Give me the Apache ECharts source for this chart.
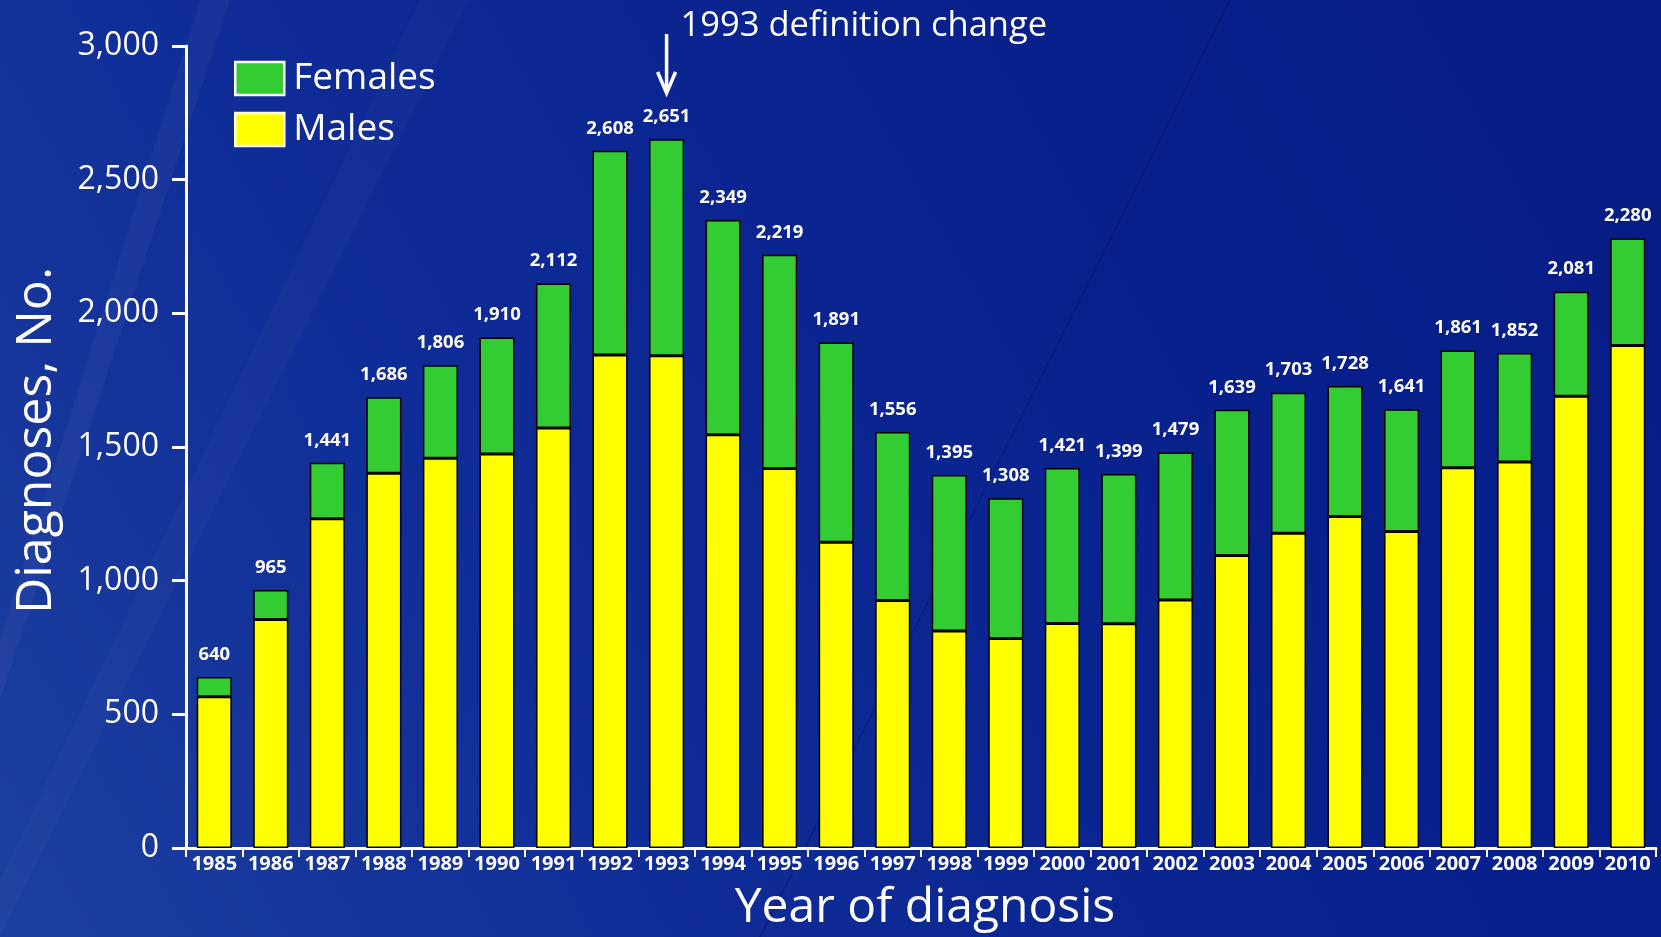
<!DOCTYPE html>
<html>
<head>
<meta charset="utf-8">
<script src="https://cdn.jsdelivr.net/npm/echarts@6/dist/echarts.min.js"></script>
<style>
html,body{margin:0;padding:0;background:#0a2490;}
#c{width:1661px;height:937px;}
</style>
</head>
<body>
<div id="c"></div>
<script>
const years = ['1985','1986','1987','1988','1989','1990','1991','1992','1993','1994','1995','1996','1997','1998','1999','2000','2001','2002','2003','2004','2005','2006','2007','2008','2009','2010'];
const totals = [640,965,1441,1686,1806,1910,2112,2608,2651,2349,2219,1891,1556,1395,1308,1421,1399,1479,1639,1703,1728,1641,1861,1852,2081,2280];
const males = [566,855,1232,1402,1458,1474,1571,1844,1841,1546,1420,1144,926,812,784,840,839,928,1094,1177,1240,1184,1422,1444,1690,1880];
const females = [74,110,209,284,348,436,541,764,810,803,799,747,630,583,524,581,560,551,545,526,488,457,439,408,391,400];
const yTicks = [0,500,1000,1500,2000,2500,3000];
const annotationYear = '1993';
const annotationText = '1993 definition change';

const FONT = '"Open Sans", "Noto Sans", sans-serif';
const fmt = v => Number(v).toLocaleString('en-US');

const chart = echarts.init(document.getElementById('c'), null, {renderer:'canvas'});

const option = {
  backgroundColor: {
    type: 'linear', x: 0, y: 1, x2: 1, y2: 0,
    colorStops: [
      {offset: 0, color: '#1d3fa0'},
      {offset: 0.35, color: '#0e2b96'},
      {offset: 0.7, color: '#07208c'},
      {offset: 1, color: '#061c84'}
    ]
  },
  animation: false,
  textStyle: {fontFamily: FONT},
  grid: {left: 186, right: 5, top: 46, bottom: 88, containLabel: false},
  legend: {
    data: ['Females', 'Males'],
    orient: 'vertical',
    left: 229, top: 55,
    icon: 'rect',
    itemWidth: 49, itemHeight: 33, itemGap: 14,
    textStyle: {color: '#fff', fontSize: 37, fontFamily: FONT, padding: [0,0,0,4]},
    itemStyle: {borderColor: '#fff', borderWidth: 2.5}
  },
  xAxis: {
    type: 'category',
    data: years,
    boundaryGap: true,
    name: 'Year of diagnosis',
    nameLocation: 'middle',
    nameGap: 36,
    nameTextStyle: {color: '#fff', fontSize: 48, fontFamily: FONT, padding: [0,0,0,8]},
    axisLine: {show: true, lineStyle: {color: '#fff', width: 3}},
    axisTick: {show: true, interval: 0, alignWithLabel: false, length: 9, lineStyle: {color: '#fff', width: 2}},
    axisLabel: {color: '#fff', fontSize: 20, fontWeight: 'bold', margin: 6, interval: 0, fontFamily: FONT}
  },
  yAxis: {
    type: 'value',
    min: 0, max: 3000, interval: 500,
    name: 'Diagnoses, No.',
    nameLocation: 'middle',
    nameGap: 124,
    nameRotate: 90,
    nameTextStyle: {color: '#fff', fontSize: 50, fontFamily: FONT, padding: [0,0,0,13]},
    splitLine: {show: false},
    axisLine: {show: true, lineStyle: {color: '#fff', width: 3}},
    axisTick: {show: true, length: 14, lineStyle: {color: '#fff', width: 3}},
    axisLabel: {color: '#fff', fontSize: 32, margin: 27, fontFamily: FONT,
      formatter: v => yTicks.includes(v) ? fmt(v) : ''}
  },
  series: [
    {
      name: 'Males', type: 'bar', stack: 'all', data: males,
      barWidth: '62%',
      itemStyle: {color: '#ffff00', borderColor: '#000', borderWidth: 1.5}
    },
    {
      name: 'Females', type: 'bar', stack: 'all', data: females,
      barWidth: '62%',
      itemStyle: {color: '#33cc33', borderColor: '#000', borderWidth: 1.5},
      label: {
        show: true, position: 'top', distance: 13,
        color: '#fff', fontSize: 18.5, fontWeight: 'bold', fontFamily: FONT,
        formatter: p => fmt(totals[p.dataIndex])
      }
    }
  ]
};
chart.setOption(option);

const ax = chart.convertToPixel({xAxisIndex: 0}, annotationYear);
chart.setOption({
  graphic: [
    {type: 'polygon', silent: true, z: -10, shape: {points: [[0,640],[0,700],[230,0],[200,0]]}, style: {fill: 'rgba(255,255,255,0.035)'}},
    {type: 'polygon', silent: true, z: -10, shape: {points: [[0,937],[0,880],[420,0],[470,0]]}, style: {fill: 'rgba(255,255,255,0.025)'}},
    {type: 'line', silent: true, z: -10, shape: {x1: 1230, y1: 0, x2: 760, y2: 937}, style: {stroke: 'rgba(0,10,90,0.25)', lineWidth: 2}},
    {type: 'line', silent: true, shape: {x1: ax, y1: 34, x2: ax, y2: 92}, style: {stroke: '#fff', lineWidth: 3.5}},
    {type: 'polyline', silent: true, shape: {points: [[ax-9, 72], [ax, 93], [ax+9, 72]]}, style: {stroke: '#fff', lineWidth: 3.5, fill: null}},
    {type: 'text', silent: true, x: ax + 14, y: 26, style: {text: annotationText, fill: '#fff', font: '34.5px ' + FONT, textVerticalAlign: 'middle', textAlign: 'left'}}
  ]
});
</script>
</body>
</html>
